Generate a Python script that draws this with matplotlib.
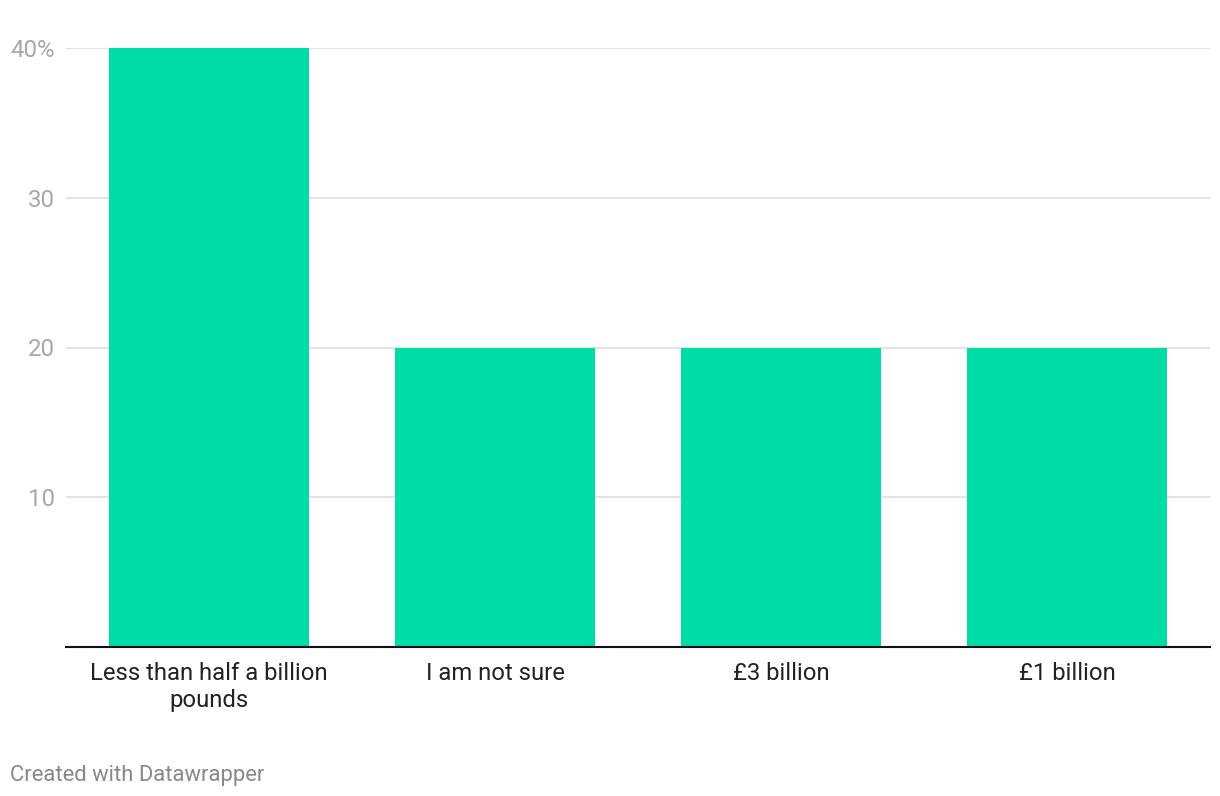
import matplotlib.pyplot as plt

plt.rcParams['font.family'] = ['Roboto', 'DejaVu Sans']

# data
categories = ['Less than half a billion\npounds', 'I am not sure', '£3 billion', '£1 billion']
shares = [40, 20, 20, 20]
yticks = [10, 20, 30, 40]
yticklabels = ['10', '20', '30', '40%']

fig = plt.figure(figsize=(12.2, 7.96), dpi=100)
ax = fig.add_axes([66/1220, 149/796, 1144/1220, 599/796])

ax.bar(range(len(categories)), shares, width=0.7, color='#00dca6', zorder=2)

ax.set_xlim(-0.5, len(categories) - 0.5)
ax.set_ylim(0, 40)
ax.set_yticks(yticks)
ax.set_yticklabels(yticklabels, color='#a8a8a8', fontsize=17.3)
ax.yaxis.grid(True, color='#e3e3e3', linewidth=1.4, zorder=0)
ax.tick_params(axis='y', length=0, pad=8)

ax.set_xticks(range(len(categories)))
ax.set_xticklabels(categories, fontsize=17.2, color='#222222', linespacing=1.22)
ax.tick_params(axis='x', length=0, pad=11)

for s in ['top', 'right', 'left']:
    ax.spines[s].set_visible(False)
ax.spines['bottom'].set_color('#111111')
ax.spines['bottom'].set_linewidth(1.5)
ax.spines['bottom'].set_zorder(3)

fig.text(10/1220, 1 - 775/796, 'Created with Datawrapper', fontsize=15.8, color='#888888',
         va='center', ha='left')

fig.savefig('out.png', dpi=100)
